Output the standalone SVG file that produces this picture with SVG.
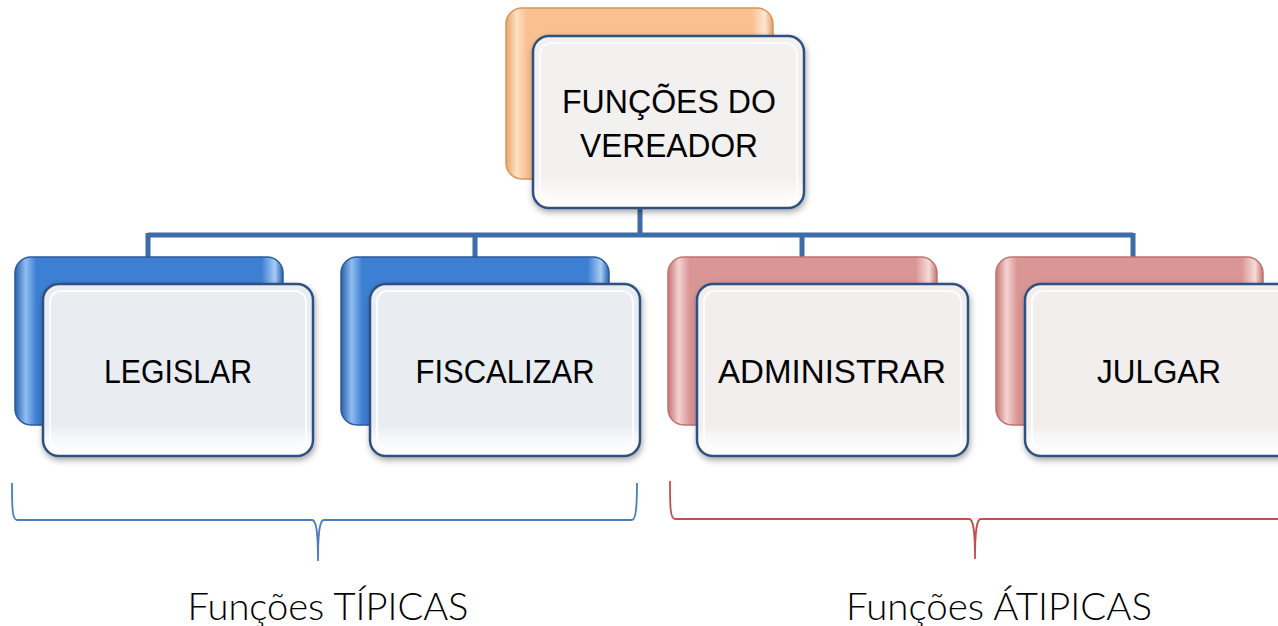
<svg xmlns="http://www.w3.org/2000/svg" width="1278" height="626" viewBox="0 0 1278 626">
<defs>
<linearGradient id="gOr" x1="0" y1="0" x2="1" y2="0">
<stop offset="0" stop-color="#e9a56b"/><stop offset="0.04" stop-color="#fde0c4"/><stop offset="0.08" stop-color="#f9c090"/><stop offset="0.92" stop-color="#f9c090"/><stop offset="0.97" stop-color="#fde7d2"/><stop offset="1" stop-color="#e39e63"/>
</linearGradient>
<linearGradient id="gBl" x1="0" y1="0" x2="1" y2="0">
<stop offset="0" stop-color="#2b62ae"/><stop offset="0.04" stop-color="#8fbdf0"/><stop offset="0.08" stop-color="#3d7fd3"/><stop offset="0.92" stop-color="#3d7fd3"/><stop offset="0.97" stop-color="#a7ccf5"/><stop offset="1" stop-color="#2b62ae"/>
</linearGradient>
<linearGradient id="gRd" x1="0" y1="0" x2="1" y2="0">
<stop offset="0" stop-color="#c67673"/><stop offset="0.04" stop-color="#f3d2d1"/><stop offset="0.08" stop-color="#da9694"/><stop offset="0.92" stop-color="#da9694"/><stop offset="0.97" stop-color="#f6dcdb"/><stop offset="1" stop-color="#c67673"/>
</linearGradient>
<linearGradient id="fBl" x1="0" y1="0" x2="0" y2="1">
<stop offset="0" stop-color="#e9edf2"/><stop offset="0.82" stop-color="#e9edf2"/><stop offset="0.9" stop-color="#f7f8fa"/><stop offset="1" stop-color="#ffffff"/>
</linearGradient>
<linearGradient id="fRd" x1="0" y1="0" x2="0" y2="1">
<stop offset="0" stop-color="#f2eeee"/><stop offset="0.82" stop-color="#f2eeee"/><stop offset="0.9" stop-color="#f9f8f8"/><stop offset="1" stop-color="#ffffff"/>
</linearGradient>
<linearGradient id="fOr" x1="0" y1="0" x2="0" y2="1">
<stop offset="0" stop-color="#f3f1ef"/><stop offset="0.82" stop-color="#f3f1ef"/><stop offset="0.9" stop-color="#f9f8f7"/><stop offset="1" stop-color="#ffffff"/>
</linearGradient>
<filter id="sh" x="-10%" y="-10%" width="120%" height="125%">
<feDropShadow dx="1" dy="3" stdDeviation="3" flood-color="#000" flood-opacity="0.35"/>
</filter>
</defs>
<style>
.back{stroke-width:1.5;}
.front{stroke:#2f5182;stroke-width:2.5;filter:url(#sh);}
.hl{fill:none;stroke:#ffffff;stroke-width:2;stroke-opacity:0.8;}
.lbl{font-family:"Liberation Sans",Arial,sans-serif;font-size:34px;fill:#000;text-anchor:middle;}
.cat{font-family:"Lato","Liberation Sans",sans-serif;font-weight:300;font-size:38px;fill:#000;text-anchor:middle;}
.conn{fill:none;stroke:#3d6ca6;stroke-width:5;}
.brace{fill:none;stroke-width:1.8;}
</style>
<g id="connectors">
<path class="conn" d="M640 208 V235 M148 235 H1133 M148 233 V258 M475 233 V258 M802 233 V258 M1133 233 V258"/>
</g>
<g id="node-root">
<rect class="back" x="506" y="8" width="267" height="171" rx="16" fill="url(#gOr)" stroke="#d8955a"/>
<rect class="front" x="533" y="36" width="271" height="172" rx="16" fill="url(#fOr)"/>
<rect class="hl" x="540" y="43" width="257" height="158" rx="11"/>
<text class="lbl" x="669" y="113" textLength="214" lengthAdjust="spacingAndGlyphs">FUNÇÕES DO</text>
<text class="lbl" x="669" y="157" textLength="178" lengthAdjust="spacingAndGlyphs">VEREADOR</text>
</g>
<g id="node-legislar">
<rect class="back" x="15" y="257" width="268" height="168" rx="16" fill="url(#gBl)" stroke="#2a5a9e"/>
<rect class="front" x="43" y="284" width="270" height="172" rx="16" fill="url(#fBl)"/>
<rect class="hl" x="50" y="291" width="256" height="158" rx="11"/>
<text class="lbl" x="178" y="383" textLength="148" lengthAdjust="spacingAndGlyphs">LEGISLAR</text>
</g>
<g id="node-fiscalizar">
<rect class="back" x="341" y="257" width="268" height="168" rx="16" fill="url(#gBl)" stroke="#2a5a9e"/>
<rect class="front" x="370" y="284" width="270" height="172" rx="16" fill="url(#fBl)"/>
<rect class="hl" x="377" y="291" width="256" height="158" rx="11"/>
<text class="lbl" x="505" y="383" textLength="179" lengthAdjust="spacingAndGlyphs">FISCALIZAR</text>
</g>
<g id="node-administrar">
<rect class="back" x="668" y="257" width="269" height="168" rx="16" fill="url(#gRd)" stroke="#c07370"/>
<rect class="front" x="697" y="284" width="271" height="172" rx="16" fill="url(#fRd)"/>
<rect class="hl" x="704" y="291" width="257" height="158" rx="11"/>
<text class="lbl" x="832" y="383" textLength="228" lengthAdjust="spacingAndGlyphs">ADMINISTRAR</text>
</g>
<g id="node-julgar">
<rect class="back" x="996" y="257" width="267" height="168" rx="16" fill="url(#gRd)" stroke="#c07370"/>
<rect class="front" x="1025" y="284" width="271" height="172" rx="16" fill="url(#fRd)"/>
<rect class="hl" x="1032" y="291" width="257" height="158" rx="11"/>
<text class="lbl" x="1159" y="383" textLength="124" lengthAdjust="spacingAndGlyphs">JULGAR</text>
</g>
<g id="brace-tipicas">
<path class="brace" stroke="#4a7ebb" d="M12 483 C12 505 12 520 17 520 H312 C316 520 318 530 318 561 C318 530 320 520 324 520 H632 C636 520 637 505 637 483"/>
<text class="cat" x="328" y="620" textLength="281" lengthAdjust="spacingAndGlyphs">Funções TÍPICAS</text>
</g>
<g id="brace-atipicas">
<path class="brace" stroke="#c0504d" d="M670 481 C670 505 670 519 675 519 H969 C973 519 975 528 975 559 C975 528 977 519 981 519 H1278"/>
<text class="cat" x="999" y="620" textLength="306" lengthAdjust="spacingAndGlyphs">Funções ÁTIPICAS</text>
</g>
</svg>
